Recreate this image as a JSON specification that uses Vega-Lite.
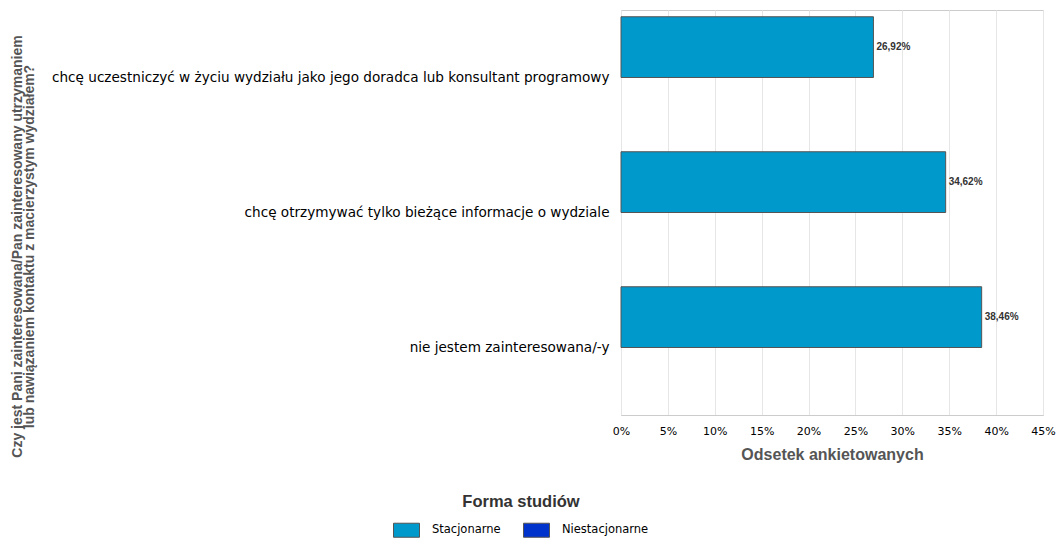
{
  "$schema": "https://vega.github.io/schema/vega-lite/v6.json",
  "width": 422,
  "height": 405,
  "autosize": {"type": "none"},
  "padding": {"left": 621, "top": 10, "right": 13, "bottom": 123},
  "background": "white",
  "config": {
    "view": {"stroke": "#cccccc", "strokeWidth": 1},
    "locale": {"number": {"decimal": ",", "thousands": " ", "grouping": [3], "currency": ["", " zł"]}}
  },
  "data": {
    "values": [
      {"Odpowiedz": "chcę uczestniczyć w życiu wydziału jako jego doradca lub konsultant programowy", "Forma": "Stacjonarne", "Odsetek": 0.2692},
      {"Odpowiedz": "chcę otrzymywać tylko bieżące informacje o wydziale", "Forma": "Stacjonarne", "Odsetek": 0.3462},
      {"Odpowiedz": "nie jestem zainteresowana/-y", "Forma": "Stacjonarne", "Odsetek": 0.3846}
    ]
  },
  "encoding": {
    "y": {
      "field": "Odpowiedz",
      "type": "nominal",
      "sort": null,
      "scale": {"paddingInner": 0.1, "paddingOuter": 0.05},
      "axis": {
        "title": ["Czy jest Pani zainteresowana/Pan zainteresowany utrzymaniem", "lub nawiązaniem kontaktu z macierzystym wydziałem?"],
        "titleAngle": -90,
        "titleX": -611,
        "titleY": 236,
        "titleAlign": "center",
        "titleBaseline": "top",
        "titleFont": "Liberation Sans",
        "titleFontSize": 14,
        "titleFontWeight": "bold",
        "titleColor": "#555555",
        "titleLineHeight": 12.5,
        "labelFont": "DejaVu Sans",
        "labelFontSize": 13.6,
        "labelColor": "#000000",
        "labelPadding": 12,
        "labelLimit": 0,
        "ticks": false,
        "domain": false,
        "grid": false
      }
    },
    "yOffset": {
      "field": "Forma",
      "type": "nominal",
      "scale": {"domain": ["Stacjonarne", "Niestacjonarne"], "paddingInner": 0, "paddingOuter": 0}
    },
    "x": {
      "field": "Odsetek",
      "type": "quantitative",
      "scale": {"domain": [0, 0.45], "nice": false},
      "axis": {
        "title": "Odsetek ankietowanych",
        "format": ".0%",
        "values": [0, 0.05, 0.1, 0.15, 0.2, 0.25, 0.3, 0.35, 0.4, 0.45],
        "titleFont": "Liberation Sans",
        "titleFontSize": 16,
        "titleFontWeight": "bold",
        "titleColor": "#555555",
        "titlePadding": 10,
        "labelFont": "DejaVu Sans",
        "labelFontSize": 11,
        "labelColor": "#000000",
        "labelPadding": 10,
        "ticks": false,
        "domainColor": "#cccccc",
        "gridColor": "#e6e6e6",
        "labelFlush": false
      }
    }
  },
  "layer": [
    {
      "mark": {"type": "bar", "stroke": "#555555", "strokeWidth": 1},
      "encoding": {
        "color": {
          "field": "Forma",
          "type": "nominal",
          "scale": {"domain": ["Stacjonarne", "Niestacjonarne"], "range": ["#0099cc", "#0033cc"]},
          "legend": {
            "title": "Forma studiów",
            "orient": "none",
            "direction": "horizontal",
            "legendX": -228,
            "legendY": 484,
            "titleFont": "Liberation Sans",
            "titleFontSize": 16.5,
            "titleFontWeight": "bold",
            "titleColor": "#333333",
            "titleAnchor": "middle",
            "titlePadding": 6,
            "labelFont": "DejaVu Sans",
            "labelFontSize": 11.5,
            "labelColor": "#000000",
            "labelOffset": 12,
            "symbolType": "M-1,-0.54H1V0.54H-1Z",
            "symbolSize": 676,
            "symbolStrokeColor": "#555555",
            "symbolStrokeWidth": 1,
            "symbolOpacity": 1,
            "columnPadding": 20
          }
        }
      }
    },
    {
      "mark": {"type": "text", "align": "left", "baseline": "middle", "dx": 3, "font": "Liberation Sans", "fontSize": 10, "fontWeight": "bold", "color": "#333333"},
      "encoding": {
        "text": {"field": "Odsetek", "type": "quantitative", "format": ".2%"}
      }
    }
  ]
}
